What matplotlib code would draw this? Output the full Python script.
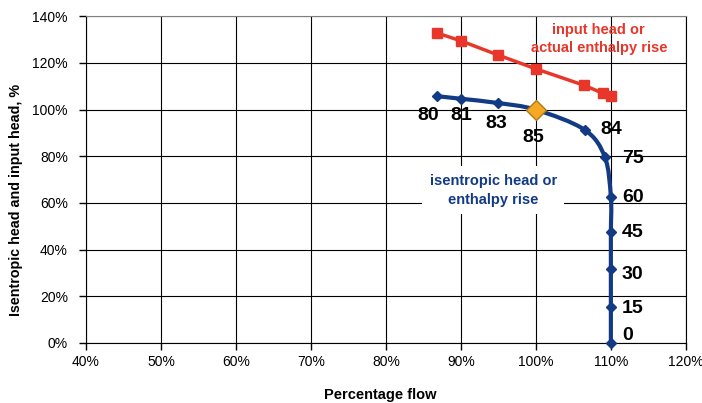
import matplotlib
matplotlib.use("Agg")
import matplotlib.pyplot as plt
import numpy as np
from matplotlib.path import Path
from matplotlib.patches import PathPatch
from matplotlib.ticker import PercentFormatter

plt.rcParams['font.family'] = ['Liberation Sans', 'DejaVu Sans']

# Input head (actual enthalpy rise), % vs percentage flow
input_flow = [86.8, 90.0, 94.9, 100.0, 106.4, 108.9, 110.0]
input_head = [132.8, 129.4, 123.4, 117.4, 110.4, 107.0, 105.8]

# Isentropic head (enthalpy rise), % vs percentage flow
isen_flow = [86.8, 90.0, 94.9, 100.0, 106.5, 109.2, 110.0, 110.0, 110.0, 110.0, 110.0]
isen_head = [105.7, 104.6, 102.8, 99.9, 91.3, 79.6, 62.5, 47.6, 31.6, 15.4, 0.0]

# Point labels (efficiency / speed markers)
point_labels = ["80", "81", "83", "85", "84", "75", "60", "45", "30", "15", "0"]
label_pos = [(85.7, 97.6), (90.1, 97.6), (94.7, 94.2), (99.6, 87.8), (110.0, 91.4),
             (112.9, 79.2), (112.9, 62.1), (112.9, 47.1), (112.9, 29.5), (112.9, 14.6), (112.3, 3.4)]

BLUE = "#123a85"
RED = "#e8372a"
ORANGE = "#f5a823"


def smooth_path(xs, ys):
    """Cubic Bezier path through the points (spreadsheet-style smoothing)."""
    pts = np.column_stack([xs, ys]).astype(float)
    n = len(pts)
    verts = [pts[0]]
    codes = [Path.MOVETO]
    for i in range(n - 1):
        p0 = pts[i - 1] if i > 0 else pts[i]
        p1 = pts[i]
        p2 = pts[i + 1]
        p3 = pts[i + 2] if i + 2 < n else pts[i + 1]
        c1 = p1 + (p2 - p0) / 6.0
        c2 = p2 - (p3 - p1) / 6.0
        verts += [c1, c2, p2]
        codes += [Path.CURVE4] * 3
    return Path(verts, codes)


fig = plt.figure(figsize=(7.02, 4.03), dpi=100)
ax = fig.add_axes([0.1225, 0.149, 0.8545, 0.811])

ax.set_xlim(40, 120)
ax.set_ylim(0, 140)
ax.set_xticks(np.arange(40, 121, 10))
ax.set_yticks(np.arange(0, 141, 20))
ax.xaxis.set_major_formatter(PercentFormatter(decimals=0))
ax.yaxis.set_major_formatter(PercentFormatter(decimals=0))
ax.tick_params(labelsize=10, length=5, width=1, color="black")
ax.tick_params(axis="x", pad=4)
ax.tick_params(axis="y", pad=8)
ax.grid(True, color="black", linewidth=0.8)
ax.set_axisbelow(True)
for s in ax.spines.values():
    s.set_color("black")
    s.set_linewidth(0.8)
ax.spines['top'].set_color("#808080")

# Input head line
ax.plot(input_flow, input_head, color=RED, linewidth=2.5, marker="s",
        markersize=6.5, markerfacecolor=RED, markeredgecolor=RED, zorder=4)

# Isentropic head curve (smoothed) with markers
ax.add_patch(PathPatch(smooth_path(isen_flow, isen_head), facecolor="none",
                       edgecolor=BLUE, linewidth=3, zorder=4))
mk = [i for i in range(len(isen_flow)) if isen_flow[i] != 100.0]
ax.plot([isen_flow[i] for i in mk], [isen_head[i] for i in mk], linestyle="none",
        marker="D", markersize=5, color=BLUE, zorder=5, clip_on=False)
ax.plot([100.0], [isen_head[isen_flow.index(100.0)]], linestyle="none", marker="D",
        markersize=10, markerfacecolor=ORANGE, markeredgecolor="#b27a14",
        markeredgewidth=1, zorder=6)

for txt, (px, py) in zip(point_labels, label_pos):
    ax.text(px, py, txt, fontsize=14, fontweight="bold", color="black",
            ha="center", va="center", zorder=7)

ax.text(108.4, 130.2, "input head or\nactual enthalpy rise", color=RED, fontsize=10.5,
        fontweight="bold", ha="center", va="center", linespacing=1.45, zorder=7)
ax.text(94.3, 65.5, "isentropic head or\nenthalpy rise", color=BLUE, fontsize=10.5,
        fontweight="bold", ha="center", va="center", linespacing=1.45, zorder=3,
        bbox=dict(boxstyle="square,pad=0.5", facecolor="white", edgecolor="none"))

ax.set_xlabel("Percentage flow", fontsize=10.5, fontweight="bold")
ax.xaxis.set_label_coords(0.49, -0.137)
ax.set_ylabel("Isentropic head and input head, %", fontsize=10.3, fontweight="bold")
ax.yaxis.set_label_coords(-0.105, 0.437)

fig.savefig("out.png", dpi=100)
